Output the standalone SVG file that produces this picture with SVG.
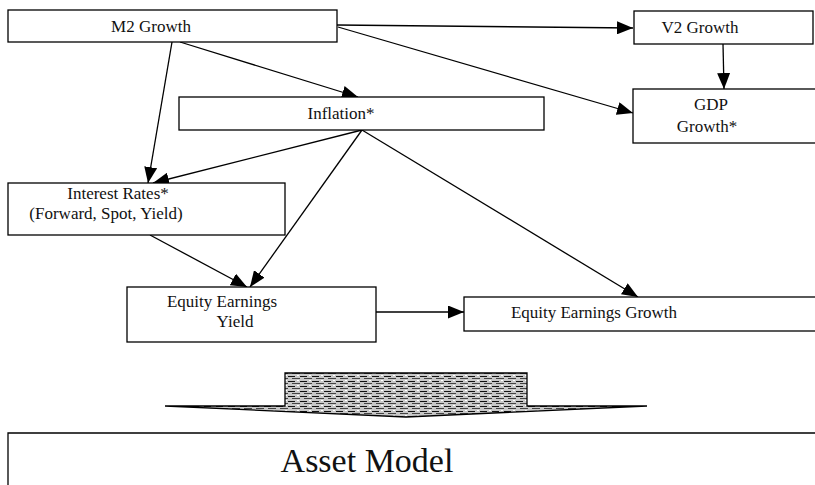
<svg xmlns="http://www.w3.org/2000/svg" width="815" height="485" viewBox="0 0 815 485">
<style>
  .box { fill: #ffffff; stroke: #000000; stroke-width: 1.3; }
  .lbl { font-family: "Liberation Serif", "Times New Roman", serif; font-size: 17px; fill: #111111; text-anchor: middle; }
  .big { font-family: "Liberation Serif", "Times New Roman", serif; font-size: 34px; fill: #111111; text-anchor: middle; }
  .edge { fill: none; stroke: #000000; stroke-width: 1.3; marker-end: url(#ah); }
</style>
<defs>
  <marker id="ah" markerUnits="userSpaceOnUse" markerWidth="17" markerHeight="13" refX="16" refY="6.5" orient="auto">
    <path d="M0,0 L16,6.5 L0,13 Z" fill="#000000"/>
  </marker>
  <pattern id="tex" patternUnits="userSpaceOnUse" width="12" height="5">
    <rect width="12" height="5" fill="#c8c8c8"/>
    <rect x="0" y="1" width="7" height="1" fill="#111111"/>
    <rect x="4" y="3" width="8" height="1" fill="#444444"/>
    <rect x="9" y="0" width="2" height="1" fill="#ffffff"/>
  </pattern>
</defs>

<g id="connectors">
  <path class="edge" d="M337,25 L633,28"/>
  <path class="edge" d="M338,27 L633,113"/>
  <path class="edge" d="M180,42 L358,97"/>
  <path class="edge" d="M172,42 L148,183"/>
  <path class="edge" d="M362,130 L153,183"/>
  <path class="edge" d="M362,130 L250,287"/>
  <path class="edge" d="M362,130 L638,297"/>
  <path class="edge" d="M150,235 L247,287"/>
  <path class="edge" d="M376,312 L464,312"/>
  <path class="edge" d="M723,44 L724,89"/>
</g>

<g id="m2-growth">
  <rect class="box" x="8" y="10" width="329" height="32"/>
  <text class="lbl" x="151" y="32">M2 Growth</text>
</g>

<g id="v2-growth">
  <rect class="box" x="634" y="11" width="179" height="33"/>
  <text class="lbl" x="700" y="33">V2 Growth</text>
</g>

<g id="inflation">
  <rect class="box" x="179" y="97" width="365" height="33"/>
  <text class="lbl" x="341" y="119">Inflation*</text>
</g>

<g id="gdp-growth">
  <rect class="box" x="633" y="89" width="190" height="54"/>
  <text class="lbl" x="711" y="110">GDP</text>
  <text class="lbl" x="707" y="132">Growth*</text>
</g>

<g id="interest-rates">
  <rect class="box" x="8" y="183" width="277" height="52"/>
  <text class="lbl" x="118" y="199">Interest Rates*</text>
  <text class="lbl" x="106" y="219">(Forward, Spot, Yield)</text>
</g>

<g id="equity-earnings-yield">
  <rect class="box" x="127" y="287" width="249" height="55"/>
  <text class="lbl" x="222" y="307">Equity Earnings</text>
  <text class="lbl" x="235" y="327">Yield</text>
</g>

<g id="equity-earnings-growth">
  <rect class="box" x="464" y="297" width="360" height="34"/>
  <text class="lbl" x="594" y="318">Equity Earnings Growth</text>
</g>

<g id="block-arrow">
  <path d="M285,406 L285,373 L527,373 L527,406 L647,406 L406,417 L165,406 Z" fill="url(#tex)" stroke="#000000" stroke-width="1.3"/>
</g>

<g id="asset-model">
  <path d="M8,485 L8,433 L820,433" fill="none" stroke="#000000" stroke-width="1.3"/>
  <text class="big" x="367" y="472">Asset Model</text>
</g>
</svg>
